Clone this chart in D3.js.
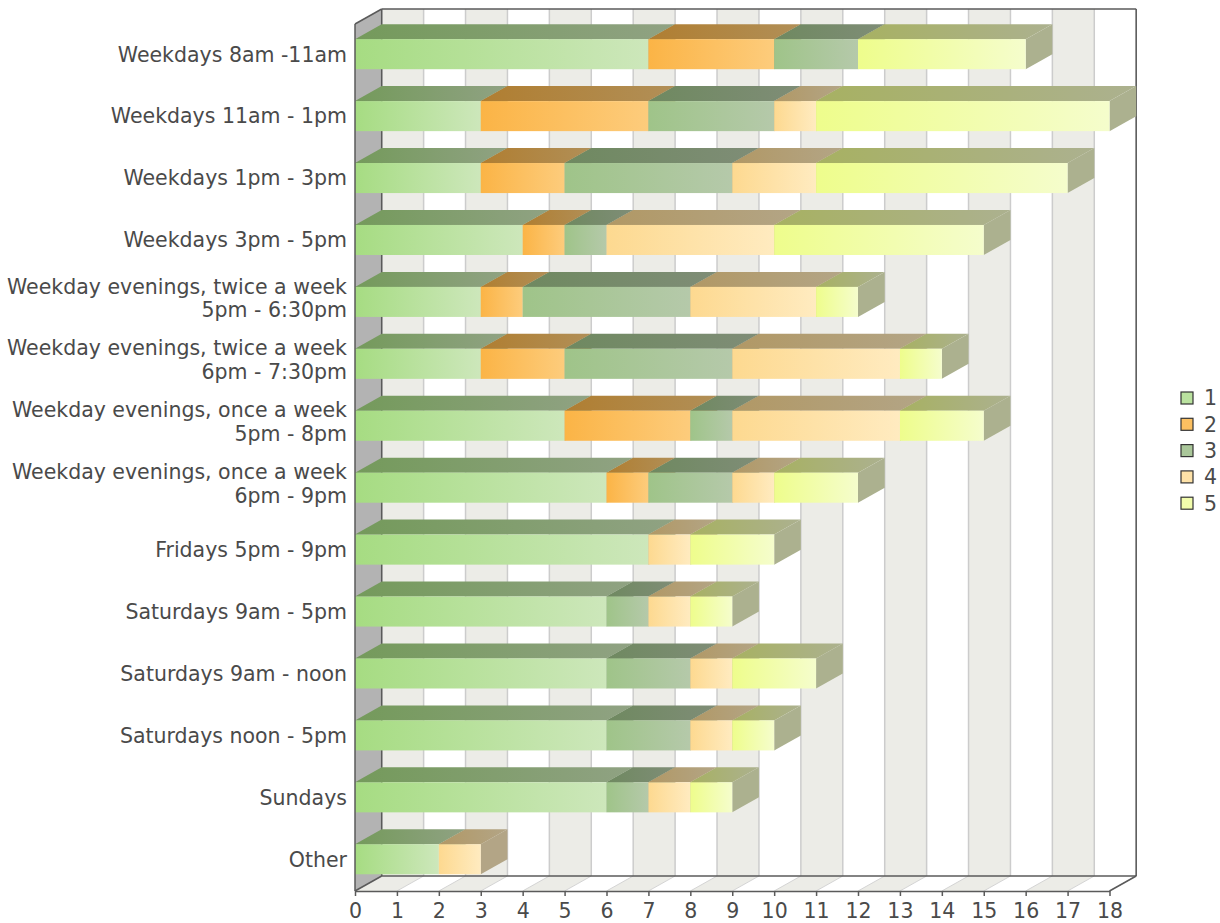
<!DOCTYPE html>
<html>
<head>
<meta charset="utf-8">
<script src="https://cdn.jsdelivr.net/npm/d3@7"></script>
<style>
  body { margin: 0; background: #fff; }
  svg text { font-family: "DejaVu Sans", sans-serif; fill: #4a4a4a; }
</style>
</head>
<body>
<div id="chart"></div>
<script>
const categories = [
  "Weekdays 8am -11am",
  "Weekdays 11am - 1pm",
  "Weekdays 1pm - 3pm",
  "Weekdays 3pm - 5pm",
  "Weekday evenings, twice a week\n5pm - 6:30pm",
  "Weekday evenings, twice a week\n6pm - 7:30pm",
  "Weekday evenings, once a week\n5pm - 8pm",
  "Weekday evenings, once a week\n6pm - 9pm",
  "Fridays 5pm - 9pm",
  "Saturdays 9am - 5pm",
  "Saturdays 9am - noon",
  "Saturdays noon - 5pm",
  "Sundays",
  "Other"
];
const seriesNames = ["1", "2", "3", "4", "5"];
const s1 = [7, 3, 3, 4, 3, 3, 5, 6, 7, 6, 6, 6, 6, 2];
const s2 = [3, 4, 2, 1, 1, 2, 3, 1, 0, 0, 0, 0, 0, 0];
const s3 = [2, 3, 4, 1, 4, 4, 1, 2, 0, 1, 2, 2, 1, 0];
const s4 = [0, 1, 2, 4, 3, 4, 4, 1, 1, 1, 1, 1, 1, 1];
const s5 = [4, 7, 6, 5, 1, 1, 2, 2, 2, 1, 2, 1, 1, 0];
const xTicks = [0, 1, 2, 3, 4, 5, 6, 7, 8, 9, 10, 11, 12, 13, 14, 15, 16, 17, 18];

// gradient start / end colours of each series (front face)
const colStart = ["#a6dc82", "#fbb446", "#9fc489", "#fdd990", "#eefd8c"];
const colEnd   = ["#cde7bb", "#fdcc7c", "#b5c9aa", "#ffebc0", "#f5fdcc"];

const width = 1220, height = 923;
const pLeft = 355, pRight = 1109.5, pTop = 24, pBottom = 891;
const dx = 26.7, dy = 15;   // 3d depth offset
const fontSize = 20.5;

const svg = d3.select("#chart").append("svg")
  .attr("width", width).attr("height", height);

const x = d3.scaleLinear().domain([0, 18]).range([pLeft, pRight]);
const y = d3.scaleBand().domain(categories).range([pTop, pBottom]).padding(0);
const bw = y.bandwidth();

const darker = c => { const r = d3.rgb(c); return d3.rgb(r.r * 0.7, r.g * 0.7, r.b * 0.7).toString(); };

// gradients
const defs = svg.append("defs");
seriesNames.forEach((s, i) => {
  [["f", colStart[i], colEnd[i]], ["t", darker(colStart[i]), darker(colEnd[i])]].forEach(([k, a, b]) => {
    const g = defs.append("linearGradient").attr("id", `g${k}${i}`)
      .attr("x1", 0).attr("x2", 1).attr("y1", 0).attr("y2", 0);
    g.append("stop").attr("offset", 0).attr("stop-color", a);
    g.append("stop").attr("offset", 1).attr("stop-color", b);
  });
});

const poly = pts => "M" + pts.map(p => p.join(",")).join("L") + "Z";

// back wall bands
for (let i = 0; i < 18; i++) {
  svg.append("rect")
    .attr("x", x(i) + dx).attr("y", pTop - dy)
    .attr("width", x(i + 1) - x(i)).attr("height", pBottom - pTop)
    .attr("fill", i % 2 === 0 ? "#ececE7" : "#ffffff");
  // floor stripe
  svg.append("path")
    .attr("d", poly([[x(i), pBottom], [x(i + 1), pBottom], [x(i + 1) + dx, pBottom - dy], [x(i) + dx, pBottom - dy]]))
    .attr("fill", i % 2 === 0 ? "#ececE7" : "#ffffff");
}
// grid lines
xTicks.forEach(t => {
  svg.append("line")
    .attr("x1", x(t) + dx).attr("x2", x(t) + dx)
    .attr("y1", pTop - dy).attr("y2", pBottom - dy)
    .attr("stroke", "#cccccc").attr("stroke-width", 1.5);
  svg.append("line")
    .attr("x1", x(t)).attr("x2", x(t) + dx)
    .attr("y1", pBottom).attr("y2", pBottom - dy)
    .attr("stroke", "#d4d4d4").attr("stroke-width", 1);
});
// left wall
svg.append("path")
  .attr("d", poly([[pLeft, pTop], [pLeft + dx, pTop - dy], [pLeft + dx, pBottom - dy], [pLeft, pBottom]]))
  .attr("fill", "#b3b3b3");

// outline
const outline = [
  [[pLeft, pTop], [pLeft + dx, pTop - dy]],
  [[pLeft + dx, pTop - dy], [pRight + dx, pTop - dy]],
  [[pRight + dx, pTop - dy], [pRight + dx, pBottom - dy]],
  [[pRight + dx, pBottom - dy], [pRight, pBottom]],
  [[pLeft, pBottom], [pLeft + dx, pBottom - dy]],
  [[pLeft + dx, pBottom - dy], [pRight + dx, pBottom - dy]],
  [[pLeft + dx, pTop - dy], [pLeft + dx, pBottom - dy]]
];
outline.forEach(([a, b]) => {
  svg.append("line")
    .attr("x1", a[0]).attr("y1", a[1]).attr("x2", b[0]).attr("y2", b[1])
    .attr("stroke", "#5a5a5a").attr("stroke-width", 1.5);
});

// stacked bars
const stack = d3.stack().keys(seriesNames);
const table = categories.map((c, i) => ({
  cat: c, "1": s1[i], "2": s2[i], "3": s3[i], "4": s4[i], "5": s5[i]
}));
const layers = stack(table);

const barY = c => y(c) + bw * 0.245;
const barH = bw * 0.485;

categories.forEach((c, ci) => {
  const g = svg.append("g");
  layers.forEach((layer, si) => {
    const d = layer[ci];
    if (d[1] - d[0] <= 0) return;
    const x0 = x(d[0]), x1 = x(d[1]), yt = barY(c), yb = yt + barH;
    // side face
    g.append("path")
      .attr("d", poly([[x1, yt], [x1 + dx, yt - dy], [x1 + dx, yb - dy], [x1, yb]]))
      .attr("fill", darker(colEnd[si]));
    // top face
    g.append("path")
      .attr("d", poly([[x0, yt], [x0 + dx, yt - dy], [x1 + dx, yt - dy], [x1, yt]]))
      .attr("fill", `url(#gt${si})`);
    // front face
    g.append("rect")
      .attr("x", x0).attr("y", yt).attr("width", x1 - x0).attr("height", barH)
      .attr("fill", `url(#gf${si})`);
  });
});

// front axis line drawn over bars' left edge
svg.append("line")
  .attr("x1", pLeft).attr("x2", pLeft).attr("y1", pTop).attr("y2", pBottom)
  .attr("stroke", "#5a5a5a").attr("stroke-width", 1.5);

// x axis
const xAxis = svg.append("g")
  .attr("transform", `translate(0,${pBottom})`)
  .call(d3.axisBottom(x).tickValues(xTicks).tickSize(5).tickPadding(7).tickSizeOuter(0));
xAxis.select(".domain").attr("stroke", "#5a5a5a").attr("stroke-width", 1.5);
xAxis.selectAll(".tick line").attr("stroke", "#5a5a5a").attr("stroke-width", 1.5);
xAxis.selectAll("text").attr("font-size", fontSize).attr("fill", "#4a4a4a")
  .attr("font-family", "DejaVu Sans, sans-serif");

// category labels
categories.forEach(c => {
  const lines = c.split("\n");
  const cy = barY(c) + barH / 2 - (lines.length > 1 ? 4 : 0);
  const t = svg.append("text")
    .attr("x", 347).attr("text-anchor", "end").attr("font-size", fontSize);
  lines.forEach((l, i) => {
    t.append("tspan").attr("x", 347)
      .attr("y", cy + (i - (lines.length - 1) / 2) * 23.5)
      .attr("dy", "0.36em").text(l);
  });
});

// legend
const lg = svg.append("g").attr("transform", "translate(1181,398)");
seriesNames.forEach((s, i) => {
  lg.append("rect")
    .attr("x", 0).attr("y", i * 26.3 - 6).attr("width", 12).attr("height", 12)
    .attr("fill", d3.interpolateRgb(colStart[i], colEnd[i])(0.5))
    .attr("stroke", "#333").attr("stroke-width", 1.2);
  lg.append("text")
    .attr("x", 23).attr("y", i * 26.3).attr("dy", "0.36em")
    .attr("font-size", fontSize).text(s);
});
</script>
</body>
</html>
